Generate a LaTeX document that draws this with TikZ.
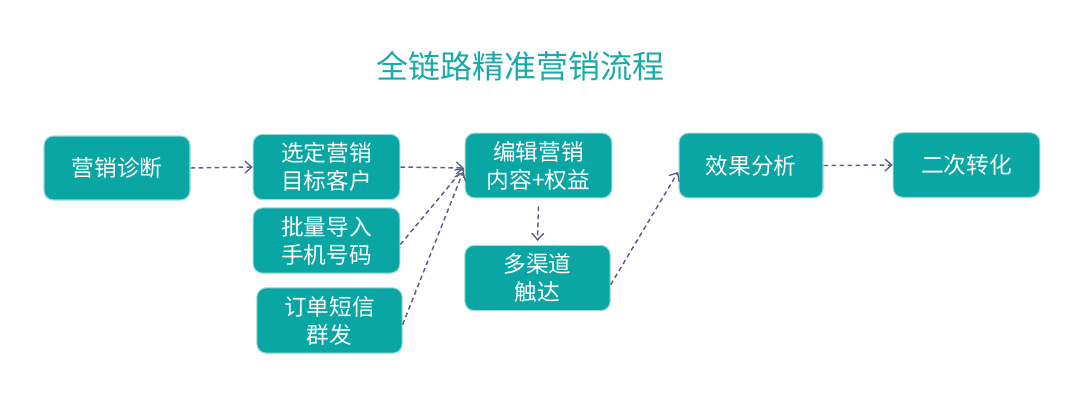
\documentclass[tikz,border=0pt]{standalone}
\usepackage{fontspec}
\setmainfont{Noto Sans CJK SC}
\usetikzlibrary{arrows.meta}
\definecolor{teal1}{HTML}{0AA6A4}
\definecolor{titlec}{HTML}{1AAAA8}
\definecolor{arr}{HTML}{5C5F86}
\tikzset{
  box/.style={draw=teal1!40, line width=0.8pt, fill=teal1, rounded corners=7pt, text=white, font=\fontsize{17}{21}\selectfont, align=center, inner sep=0pt},
  link/.style={draw=arr, line width=1.1pt, dash pattern=on 3.5pt off 2.5pt, -{Straight Barb[length=5pt,width=9pt,line width=1pt]}}
}
\begin{document}
\begin{tikzpicture}[x=0.75pt,y=-0.75pt]
\useasboundingbox (0,0) rectangle (1080,401);
\node[text=titlec, font=\fontsize{24}{28}\selectfont] (title) at (520,66) {全链路精准营销流程};
\node[box, minimum width=109.5pt, minimum height=48pt] (diag) at (117,168) {营销诊断};
\node[box, minimum width=110pt, minimum height=49pt] (sel) at (326.5,167) {选定营销\\目标客户};
\node[box, minimum width=110pt, minimum height=49pt] (imp) at (326.5,240.5) {批量导入\\手机号码};
\node[box, minimum width=109pt, minimum height=49pt] (sms) at (329.5,320.5) {订单短信\\群发};
\node[box, minimum width=110pt, minimum height=48.5pt] (edit) at (538.5,165.5) {编辑营销\\内容+权益};
\node[box, minimum width=109pt, minimum height=49pt] (chan) at (537.5,278) {多渠道\\触达};
\node[box, minimum width=108pt, minimum height=48.5pt] (eff) at (751,165.5) {效果分析};
\node[box, minimum width=110pt, minimum height=48.5pt] (conv) at (966.5,165) {二次转化};
\coordinate (in1) at (464,168);
\coordinate (in2) at (463,172);
\coordinate (in3) at (678,172);
\draw[link] (diag.east) -- (sel.west);
\draw[link] (sel.east) -- (in1);
\draw[link] ([yshift=-3pt]imp.east) -- (in1);
\draw[link] ([yshift=-3pt]sms.east) -- (in2);
\draw[link] ([yshift=-6pt]edit.south) -- ([yshift=3pt]chan.north);
\draw[link] ([yshift=-5pt]chan.east) -- (in3);
\draw[link] (eff.east) -- (conv.west);
\end{tikzpicture}
\end{document}
